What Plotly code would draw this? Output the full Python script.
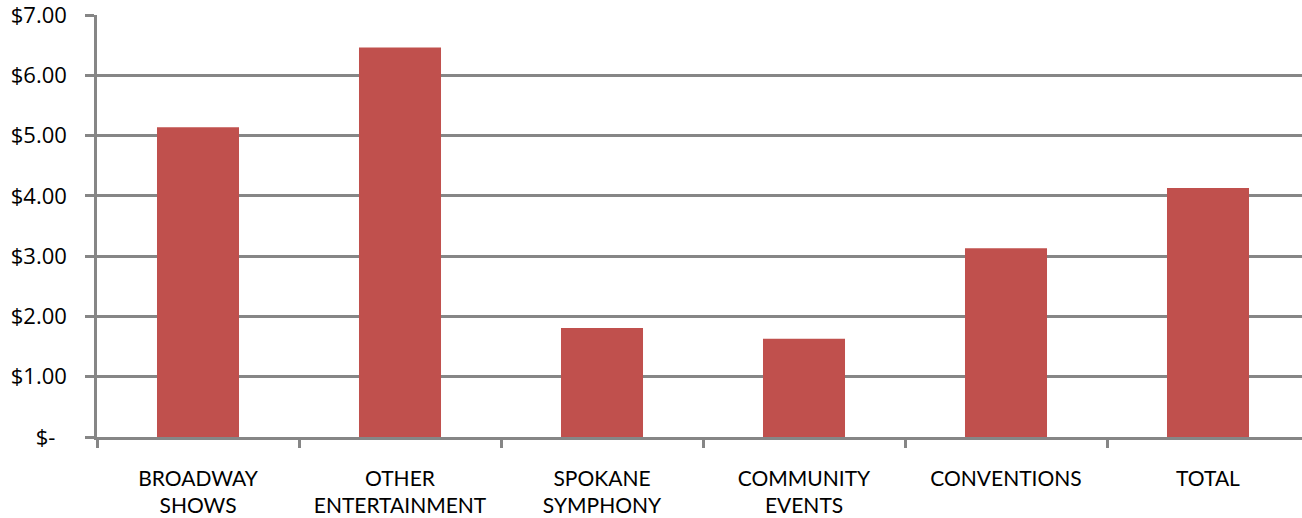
import plotly.graph_objects as go

categories = ["BROADWAY<br>SHOWS", "OTHER<br>ENTERTAINMENT", "SPOKANE<br>SYMPHONY",
              "COMMUNITY<br>EVENTS", "CONVENTIONS", "TOTAL"]
values = [5.14, 6.46, 1.81, 1.63, 3.13, 4.13]
y_tick_vals = [0, 1, 2, 3, 4, 5, 6, 7]
y_tick_text = ["$-\u00a0\u00a0", "$1.00", "$2.00", "$3.00", "$4.00", "$5.00", "$6.00", "$7.00"]

GRID = "#868686"
FONT = "Lato, Calibri, 'Open Sans', sans-serif"

fig = go.Figure(go.Bar(x=categories, y=values, marker=dict(color="#C0504D", line=dict(width=0))))

fig.update_layout(
    width=1309, height=518,
    margin=dict(l=97, r=0, t=15, b=81, autoexpand=False),
    paper_bgcolor="white", plot_bgcolor="white",
    bargap=0.594,
    showlegend=False,
    font=dict(family=FONT, size=21, color="#000000"),
)
fig.update_yaxes(
    range=[0, 7], tickvals=y_tick_vals, ticktext=y_tick_text,
    tickfont=dict(family="'Open Sans', sans-serif", size=22, color="#000000"),
    showgrid=True, gridcolor=GRID, gridwidth=2.5,
    showline=True, linecolor=GRID, linewidth=2.5,
    ticks="outside", ticklen=9, tickcolor=GRID, tickwidth=2.5,
    ticklabelstandoff=14, ticklabeloverflow="allow", zeroline=False, automargin=False,
)
fig.update_xaxes(
    showline=True, linecolor=GRID, linewidth=2.5,
    ticks="outside", ticklen=8, tickcolor=GRID, tickwidth=2.5,
    tickson="boundaries", ticklabelstandoff=21, ticklabeloverflow="allow", automargin=False,
)
fig.write_html("out.html", config={"displayModeBar": False},
               post_script="document.body.style.margin='0';document.body.style.padding='0';")
